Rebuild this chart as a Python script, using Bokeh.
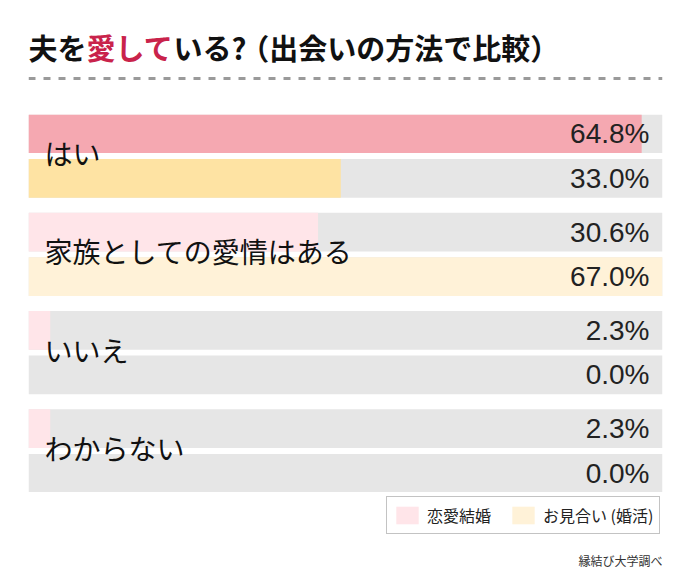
from bokeh.plotting import figure
from bokeh.models import FactorRange, Range1d, ColumnDataSource, Legend, LegendItem
from bokeh.layouts import column
from bokeh.embed import file_html
from bokeh.resources import INLINE
from bokeh.core.properties import value

# ---- data ----
categories = ["はい", "家族としての愛情はある", "いいえ", "わからない"]
series = ["恋愛結婚", "お見合い (婚活)"]
love_marriage = [64.8, 30.6, 2.3, 2.3]
arranged_marriage = [33.0, 67.0, 0.0, 0.0]
highlight_category = "はい"
highlight_colors = ["#F5A8B1", "#FEE3A3"]
base_colors = ["#FFE5E9", "#FFF2D8"]
track_color = "#E6E6E6"
title_parts = ["夫を", "愛して", "いる?", "（出会いの方法で比較）"]
title_colors = ["#111111", "#C9234B", "#111111", "#111111"]
source_note = "縁結び大学調べ"

W = 690
LEFT, RIGHT = 28, 662
JP = "Noto Sans CJK JP"
NUM = "Liberation Sans"
TITLE_SIZE = 29


def bare(fig):
    fig.grid.visible = False
    fig.outline_line_color = None
    fig.background_fill_color = "white"
    fig.border_fill_color = "white"
    return fig


def em_width(s):
    # full-width glyphs take 1 em, ASCII punctuation is narrow
    return sum(0.3 if ord(ch) < 128 else 1.0 for ch in s)


common = dict(width=W, output_backend="svg", toolbar_location=None,
              min_border_left=LEFT, min_border_right=W - RIGHT,
              x_axis_location=None, y_axis_location=None)

# ---- header (title + dashed rule) ----
header = bare(figure(height=100, x_range=Range1d(LEFT, RIGHT), y_range=Range1d(100, 0),
                     min_border_top=0, min_border_bottom=0, **common))
xs, acc = [], 0.0
for part in title_parts:
    xs.append(LEFT + acc * TITLE_SIZE)
    acc += em_width(part)
header.text(x=xs, y=[46] * len(title_parts), text=title_parts, text_color=title_colors,
            text_font=value(JP), text_font_style="bold",
            text_font_size=f"{TITLE_SIZE}px", text_baseline="middle", text_align="left")
header.segment(x0=[LEFT], y0=[78], x1=[RIGHT], y1=[78], line_color="#9A9A9A",
               line_width=3, line_dash="7 8")

# ---- main bars ----
factors = [(c, s) for c in reversed(categories) for s in reversed(series)]
y_range = FactorRange(*factors, range_padding=0, factor_padding=0.155, group_padding=0.39)
xmax = max(love_marriage + arranged_marriage)

main = bare(figure(height=392, x_range=Range1d(0, xmax), y_range=y_range,
                   min_border_top=14, min_border_bottom=0, **common))

ys, vals, cols, labels = [], [], [], []
for i, c in enumerate(categories):
    for j, s in enumerate(series):
        v = (love_marriage, arranged_marriage)[j][i]
        ys.append((c, s))
        vals.append(v)
        cols.append(highlight_colors[j] if c == highlight_category else base_colors[j])
        labels.append(f"{v:.1f}%")
src = ColumnDataSource(dict(y=ys, v=vals, color=cols, label=labels))

main.hbar(y="y", left=0, right=xmax, height=1, fill_color=track_color, line_color=None, source=src)
main.hbar(y="y", left=0, right="v", height=1, fill_color="color", line_color=None, source=src)
main.text(x=xmax, y="y", text="label", x_offset=-13, text_align="right", text_baseline="middle",
          text_font=value(NUM), text_font_size="28px", text_color="#222222", source=src)
cat_src = ColumnDataSource(dict(y=categories, text=categories))
main.text(x=0, y="y", text="text", x_offset=16, y_offset=-3, text_align="left",
          text_baseline="middle", text_font=value(JP), text_font_size="28px",
          text_color="#111111", source=cat_src)

# ---- footer (legend + source) ----
footer = bare(figure(height=80, x_range=Range1d(LEFT, RIGHT), y_range=Range1d(80, 0),
                     min_border_top=0, min_border_bottom=0, **common))
nan = float("nan")
swatches = []
for col in base_colors:
    swatches.append(footer.rect(x=[nan], y=[nan], width=1, height=1,
                                fill_color=col, line_color=None))
legend = Legend(items=[LegendItem(label=s, renderers=[r]) for s, r in zip(series, swatches)],
                location=(386 - LEFT, 38), orientation="horizontal",
                glyph_width=28, glyph_height=22, label_height=22, label_standoff=6,
                spacing=18, padding=6, margin=0,
                border_line_color="#888888", border_line_width=1,
                label_text_font=JP, label_text_font_size="16px", label_text_color="#222222")
footer.add_layout(legend)
footer.text(x=[RIGHT], y=[68], text=[source_note], text_align="right", text_baseline="middle",
            text_font=value(JP), text_font_size="12px", text_color="#333333")

layout = column(header, main, footer, spacing=0)
open("out.html", "w").write(file_html(layout, INLINE))
